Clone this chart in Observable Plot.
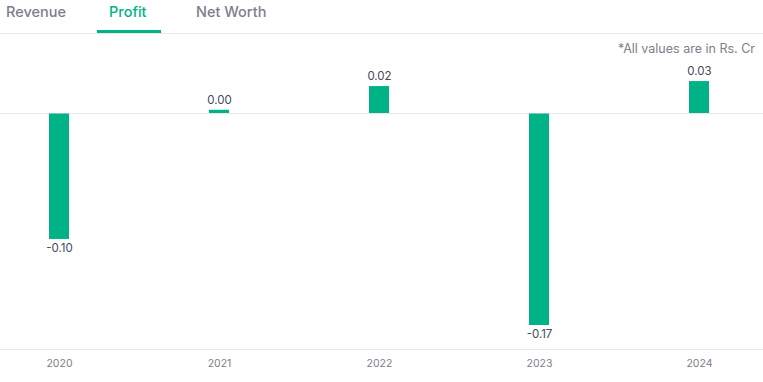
<!DOCTYPE html>
<html>
<head>
<meta charset="utf-8">
<script src="https://cdn.jsdelivr.net/npm/d3@7"></script>
<script src="https://cdn.jsdelivr.net/npm/@observablehq/plot@0.6"></script>
<style>
  html, body { margin: 0; padding: 0; background: #fff; }
  body { width: 763px; height: 382px; position: relative; overflow: hidden; font-family: Inter, "Noto Sans", sans-serif; }
  .tabs { position: relative; height: 33px; border-bottom: 1px solid #e9e9eb; }
  .tab { position: absolute; top: 3px; font-size: 14.5px; font-weight: 500; color: #7c7e8c; }
  .tab.active { color: #00b386; }
  .underline { position: absolute; left: 97px; width: 64px; top: 30px; height: 3px; background: #00b386; }
  .note { position: absolute; right: 8px; top: 41px; font-size: 12.5px; color: #7c7e8c; }
  #chart { position: absolute; left: 0; top: 34px; }
</style>
</head>
<body>
<div class="tabs">
  <span class="tab" style="left:6px">Revenue</span>
  <span class="tab active" style="left:109px">Profit</span>
  <span class="tab" style="left:196px">Net Worth</span>
  <div class="underline"></div>
</div>
<div class="note">*All values are in Rs. Cr</div>
<div id="chart"></div>
<script>
const years = ["2020", "2021", "2022", "2023", "2024"];
const profit = [-0.101, 0.003, 0.022, -0.17, 0.026];
const labels = ["-0.10", "0.00", "0.02", "-0.17", "0.03"];

const data = years.map((y, i) => ({year: y, value: profit[i], label: labels[i]}));
const pos = data.filter(d => d.value >= 0);
const neg = data.filter(d => d.value < 0);

const chart = Plot.plot({
  width: 763,
  height: 348,
  marginLeft: 0,
  marginRight: 0,
  marginTop: 0,
  marginBottom: 33,
  style: {fontFamily: "Inter, 'Noto Sans', sans-serif", background: "transparent"},
  x: {type: "band", domain: years, range: [49, 709], paddingInner: 0.875, paddingOuter: 0, label: null},
  y: {domain: [-0.17, 0], range: [291, 79], axis: null},
  marks: [
    Plot.frame({anchor: "bottom", stroke: "#e9e9eb"}),
    Plot.ruleY([0], {stroke: "#e9e9eb", strokeWidth: 1}),
    Plot.barY(data, {x: "year", y1: 0, y2: "value", fill: "#00b386", insetTop: 0.5}),
    Plot.text(pos, {x: "year", y: "value", text: "label", lineAnchor: "bottom", dy: -6, fill: "#44475b", fontSize: 11.5}),
    Plot.text(neg, {x: "year", y: "value", text: "label", lineAnchor: "top", dy: 4, fill: "#44475b", fontSize: 11.5}),
    Plot.axisX({tickSize: 0, tickPadding: 10, fontSize: 10.5, fill: "#7c7e8c", label: null})
  ]
});
document.getElementById("chart").appendChild(chart);
</script>
</body>
</html>
